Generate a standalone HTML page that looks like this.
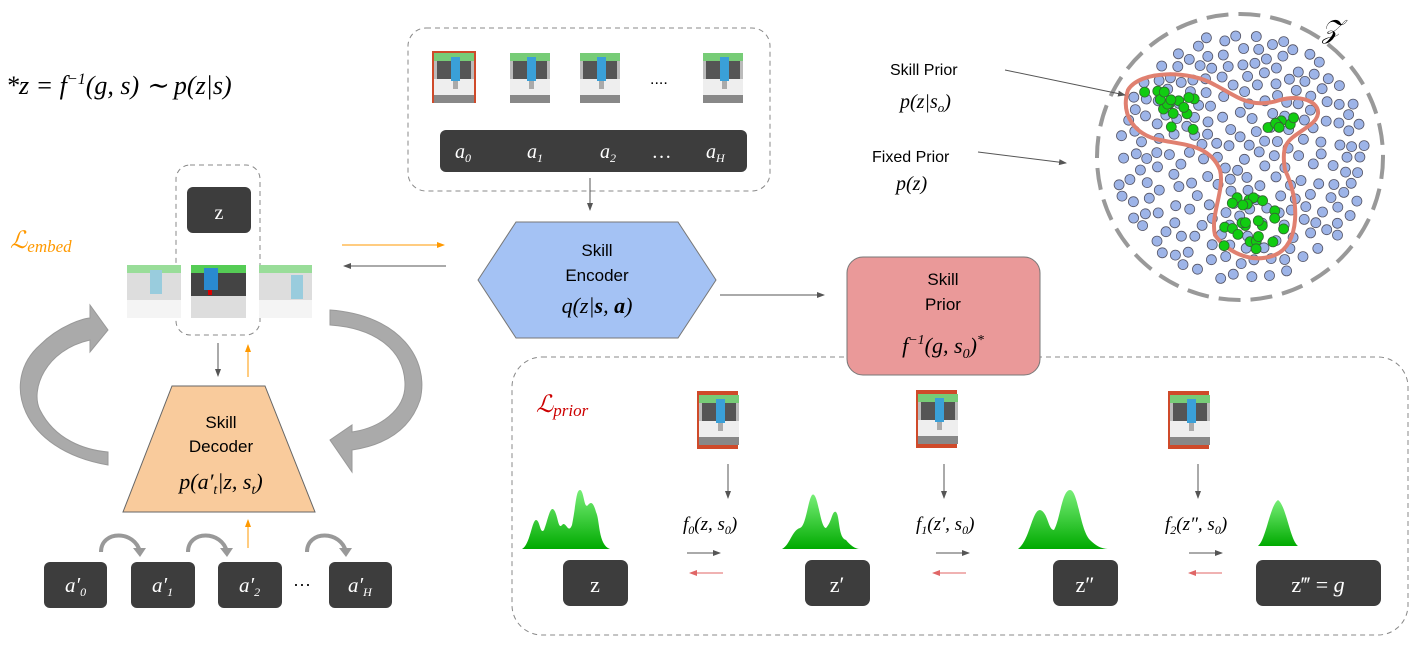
<!DOCTYPE html>
<html><head><meta charset="utf-8"><style>
body{margin:0;background:#fff;}
svg{display:block;font-family:"Liberation Sans",sans-serif;}
.m{font-family:"Liberation Serif",serif;font-style:italic;}
</style></head><body>
<svg id="s" width="1416" height="648" viewBox="0 0 1416 648" xmlns="http://www.w3.org/2000/svg">
<defs>
<marker id="ag" markerWidth="8" markerHeight="8" refX="7" refY="4" orient="auto"><path d="M0,1 L8,4 L0,7z" fill="#555"/></marker>
<marker id="ao" markerWidth="8" markerHeight="8" refX="7" refY="4" orient="auto"><path d="M0,1 L8,4 L0,7z" fill="#f90"/></marker>
<marker id="ar" markerWidth="8" markerHeight="8" refX="7" refY="4" orient="auto"><path d="M0,1 L8,4 L0,7z" fill="#e06666"/></marker>
<linearGradient id="gr" x1="0" y1="0" x2="0" y2="1"><stop offset="0" stop-color="#7e7"/><stop offset="1" stop-color="#0a0"/></linearGradient>
<g id="img"><rect width="40" height="50" fill="#bbb"/><rect width="40" height="8" fill="#7c7"/><rect x="3" y="8" width="34" height="18" fill="#555"/><rect y="26" width="40" height="18" fill="#eee"/><rect y="42" width="40" height="8" fill="#888"/><rect x="17" y="4" width="9" height="24" fill="#3aa0d8"/><rect x="19" y="28" width="5" height="8" fill="#aaa"/></g>
</defs>
<text x="6" y="94" class="m" font-size="26">*z = f<tspan font-size="16" dy="-10">−1</tspan><tspan dy="10">(g, s) ∼ p(z|s)</tspan></text>
<rect x="408" y="28" width="362" height="163" rx="18" fill="none" stroke="#888" stroke-dasharray="5,4"/>
<rect x="432" y="51" width="44" height="52" fill="#cf4a2a"/><use href="#img" x="434" y="53"/>
<use href="#img" x="510" y="53"/><use href="#img" x="580" y="53"/><use href="#img" x="703" y="53"/>
<text x="650" y="84" font-size="16">....</text>
<rect x="440" y="130" width="307" height="42" rx="6" fill="#3d3d3d"/>
<g class="m" font-size="20" fill="#fff"><text x="455" y="158">a<tspan font-size="12" dy="4">0</tspan></text><text x="527" y="158">a<tspan font-size="12" dy="4">1</tspan></text><text x="600" y="158">a<tspan font-size="12" dy="4">2</tspan></text><text x="653" y="158">…</text><text x="706" y="158">a<tspan font-size="12" dy="4">H</tspan></text></g>
<line x1="590" y1="178" x2="590" y2="210" stroke="#555" marker-end="url(#ag)"/>
<polygon points="478,280 516,222 678,222 716,280 678,338 516,338" fill="#a4c2f4" stroke="#777"/>
<text x="597" y="256" font-size="17" text-anchor="middle">Skill</text>
<text x="597" y="281" font-size="17" text-anchor="middle">Encoder</text>
<text x="597" y="313" class="m" font-size="22" text-anchor="middle">q(z|<tspan font-weight="bold">s</tspan>, <tspan font-weight="bold">a</tspan>)</text>
<line x1="342" y1="245" x2="444" y2="245" stroke="#f90" marker-end="url(#ao)"/>
<line x1="446" y1="266" x2="344" y2="266" stroke="#555" marker-end="url(#ag)"/>
<line x1="720" y1="295" x2="824" y2="295" stroke="#555" marker-end="url(#ag)"/>
<rect x="512" y="357" width="896" height="278" rx="30" fill="none" stroke="#888" stroke-dasharray="5,4"/>
<rect x="847" y="257" width="193" height="118" rx="16" fill="#ea9999" stroke="#777"/>
<text x="943" y="285" font-size="17" text-anchor="middle">Skill</text>
<text x="943" y="310" font-size="17" text-anchor="middle">Prior</text>
<text x="943" y="353" class="m" font-size="22" text-anchor="middle">f<tspan font-size="14" dy="-9">−1</tspan><tspan dy="9">(g, s</tspan><tspan font-size="14" dy="5">0</tspan><tspan dy="-5">)</tspan><tspan font-size="14" dy="-9">*</tspan></text>
<text x="536" y="412" class="m" font-size="24" fill="#c00">ℒ<tspan font-size="17" dy="4">prior</tspan></text>
<text x="10" y="248" class="m" font-size="24" fill="#f90">ℒ<tspan font-size="17" dy="4">embed</tspan></text>
<rect x="176" y="165" width="84" height="170" rx="14" fill="none" stroke="#888" stroke-dasharray="5,4"/>
<rect x="187" y="187" width="64" height="46" rx="6" fill="#3d3d3d"/>
<text x="219" y="219" font-size="20" fill="#fff" text-anchor="middle" font-family="Liberation Serif">z</text>
<rect x="127" y="265" width="54" height="53" fill="#ddd"/><rect x="127" y="265" width="54" height="8" fill="#9d9"/><rect x="150" y="270" width="12" height="24" fill="#9cd"/><rect x="127" y="300" width="54" height="18" fill="#f4f4f4"/>
<rect x="191" y="265" width="55" height="53" fill="#444"/><rect x="191" y="265" width="55" height="8" fill="#5c5"/><rect x="204" y="268" width="14" height="22" fill="#2a8ad0"/><rect x="191" y="296" width="55" height="22" fill="#ddd"/><rect x="208" y="290" width="4" height="5" fill="#d00"/>
<rect x="259" y="265" width="53" height="53" fill="#ddd"/><rect x="259" y="265" width="53" height="8" fill="#9d9"/><rect x="291" y="275" width="12" height="24" fill="#9cd"/><rect x="259" y="300" width="53" height="18" fill="#f4f4f4"/>
<line x1="218" y1="343" x2="218" y2="376" stroke="#555" marker-end="url(#ag)"/>
<line x1="248" y1="377" x2="248" y2="345" stroke="#f90" marker-end="url(#ao)"/>
<polygon points="123,512 315,512 265,386 172,386" fill="#f9cb9c" stroke="#666"/>
<text x="221" y="428" font-size="17" text-anchor="middle">Skill</text>
<text x="221" y="452" font-size="17" text-anchor="middle">Decoder</text>
<text x="221" y="489" class="m" font-size="22" text-anchor="middle">p(a′<tspan font-size="14" dy="5">t</tspan><tspan dy="-5">|z, s</tspan><tspan font-size="14" dy="5">t</tspan><tspan dy="-5">)</tspan></text>
<path d="M108,465 C20,450 0,380 40,345 C60,325 85,318 90,318 L90,305 L108,330 L90,352 L90,340 C45,350 30,390 40,410 C55,440 85,450 108,452z" fill="#aaa" stroke="#999"/>
<path d="M330,310 C400,315 430,360 420,400 C410,430 385,445 352,450 L352,472 L330,440 L352,425 L352,432 C380,428 405,410 405,385 C405,350 375,328 330,325z" fill="#aaa" stroke="#999"/>
<g fill="#3d3d3d"><rect x="44" y="562" width="63" height="46" rx="6"/><rect x="131" y="562" width="64" height="46" rx="6"/><rect x="218" y="562" width="64" height="46" rx="6"/><rect x="329" y="562" width="63" height="46" rx="6"/></g>
<g class="m" font-size="21" fill="#fff"><text x="65" y="592">a′<tspan font-size="12" dy="4">0</tspan></text><text x="152" y="592">a′<tspan font-size="12" dy="4">1</tspan></text><text x="239" y="592">a′<tspan font-size="12" dy="4">2</tspan></text><text x="348" y="592">a′<tspan font-size="12" dy="4">H</tspan></text></g>
<text x="293" y="590" font-size="18">···</text>
<g fill="none" stroke="#999" stroke-width="4"><path d="M101,552 C101,530 135,530 140,552"/><path d="M188,552 C188,530 222,530 227,552"/><path d="M307,552 C307,530 341,530 346,552"/></g>
<g fill="#999"><path d="M133,548 L146,548 L140,557z"/><path d="M220,548 L233,548 L227,557z"/><path d="M339,548 L352,548 L346,557z"/></g>
<line x1="248" y1="548" x2="248" y2="520" stroke="#f90" marker-end="url(#ao)"/>
<rect x="697" y="391" width="41" height="58" fill="#cf4a2a"/><use href="#img" x="699" y="395"/>
<rect x="916" y="390" width="41" height="58" fill="#cf4a2a"/><use href="#img" x="918" y="394"/>
<rect x="1168" y="391" width="41" height="58" fill="#cf4a2a"/><use href="#img" x="1170" y="395"/>
<g stroke="#555"><line x1="728" y1="464" x2="728" y2="498" marker-end="url(#ag)"/><line x1="944" y1="464" x2="944" y2="498" marker-end="url(#ag)"/><line x1="1198" y1="464" x2="1198" y2="498" marker-end="url(#ag)"/></g>
<g fill="url(#gr)">
<path d="M522,549 C530,545 532,520 536,520 C540,520 540,535 544,530 C548,520 550,505 554,510 C558,515 558,530 562,525 C566,520 568,535 572,525 C576,505 576,490 580,490 C584,490 584,510 588,505 C592,500 594,505 596,512 C600,520 598,545 610,549z"/>
<path d="M782,549 C790,545 792,530 800,528 C806,526 808,500 812,495 C818,490 820,528 826,528 C832,522 832,510 836,512 C840,516 838,538 846,540 C850,545 855,549 860,549z"/>
<path d="M1018,549 C1030,540 1032,510 1040,510 C1048,512 1048,530 1054,530 C1060,520 1062,490 1070,490 C1078,490 1080,530 1090,540 C1098,548 1104,549 1110,549z"/>
<path d="M1258,546 C1266,540 1270,505 1278,500 C1286,505 1290,540 1298,546z"/>
</g>
<g class="m" font-size="19"><text x="683" y="530">f<tspan font-size="12" dy="4">0</tspan><tspan dy="-4">(z, s</tspan><tspan font-size="12" dy="4">0</tspan><tspan dy="-4">)</tspan></text>
<text x="916" y="530">f<tspan font-size="12" dy="4">1</tspan><tspan dy="-4">(z′, s</tspan><tspan font-size="12" dy="4">0</tspan><tspan dy="-4">)</tspan></text>
<text x="1165" y="530">f<tspan font-size="12" dy="4">2</tspan><tspan dy="-4">(z″, s</tspan><tspan font-size="12" dy="4">0</tspan><tspan dy="-4">)</tspan></text></g>
<g stroke="#555"><line x1="687" y1="553" x2="720" y2="553" marker-end="url(#ag)"/><line x1="936" y1="553" x2="969" y2="553" marker-end="url(#ag)"/><line x1="1189" y1="553" x2="1222" y2="553" marker-end="url(#ag)"/></g>
<g stroke="#e06666"><line x1="723" y1="573" x2="690" y2="573" marker-end="url(#ar)"/><line x1="966" y1="573" x2="933" y2="573" marker-end="url(#ar)"/><line x1="1222" y1="573" x2="1189" y2="573" marker-end="url(#ar)"/></g>
<g fill="#3d3d3d"><rect x="563" y="560" width="65" height="46" rx="7"/><rect x="805" y="560" width="65" height="46" rx="7"/><rect x="1053" y="560" width="65" height="46" rx="7"/><rect x="1256" y="560" width="125" height="46" rx="7"/></g>
<g fill="#fff" font-family="Liberation Serif" font-size="22" text-anchor="middle"><text x="595" y="592">z</text><text x="837" y="592">z′</text><text x="1085" y="592">z″</text><text x="1318" y="592">z‴ = <tspan font-style="italic">g</tspan></text></g>
<circle cx="1240" cy="157" r="143" fill="none" stroke="#999" stroke-width="4" stroke-dasharray="22,10"/>
<text x="1322" y="38" class="m" font-size="26">𝒵</text>
<g id="dots"></g>
<path d="M1128,90 C1140,70 1190,70 1215,85 C1235,95 1250,110 1280,100 C1310,92 1330,110 1310,125 C1290,140 1280,140 1285,170 C1300,200 1300,245 1275,255 C1250,265 1225,250 1215,235 C1210,215 1225,190 1220,170 C1210,145 1185,145 1160,140 C1135,135 1120,115 1128,90z" fill="none" stroke="#e08070" stroke-width="4"/>
<g id="gdots"></g>
<text x="890" y="75" font-size="16">Skill Prior</text>
<text x="900" y="108" class="m" font-size="20">p(z|s<tspan font-size="13" dy="4">o</tspan><tspan dy="-4">)</tspan></text>
<text x="872" y="162" font-size="16">Fixed Prior</text>
<text x="896" y="190" class="m" font-size="20">p(z)</text>
<line x1="1005" y1="70" x2="1125" y2="95" stroke="#555" marker-end="url(#ag)"/>
<line x1="978" y1="152" x2="1066" y2="163" stroke="#555" marker-end="url(#ag)"/>
</svg>
<script>
var ns="http://www.w3.org/2000/svg",seed=7;function r(){seed=(seed*16807)%2147483647;return seed/2147483647;}
function dot(p,x,y,f,s){var c=document.createElementNS(ns,"circle");c.setAttribute("cx",x.toFixed(1));c.setAttribute("cy",y.toFixed(1));c.setAttribute("r","5");c.setAttribute("fill",f);c.setAttribute("stroke",s);c.setAttribute("stroke-width","0.8");p.appendChild(c);}
var g=document.getElementById("dots"),h=document.getElementById("gdots"),P=[];
for(var t=0;t<4000&&P.length<230;t++){var a=r()*6.283,d=Math.sqrt(r())*125,x=1240+d*Math.cos(a),y=157+d*Math.sin(a),ok=true;for(var j=0;j<P.length;j++){var dx=P[j][0]-x,dy=P[j][1]-y;if(dx*dx+dy*dy<130){ok=false;break;}}if(ok){P.push([x,y]);dot(g,x,y,"#9db4e8","#556");}}
var pts=[[1135,90,60,40,16],[1265,112,45,20,7],[1222,195,65,55,24]];
pts.forEach(function(p){for(var i=0;i<p[4];i++){dot(h,p[0]+r()*p[2],p[1]+r()*p[3],"#1c1","#363");}});
</script>
</body></html>
